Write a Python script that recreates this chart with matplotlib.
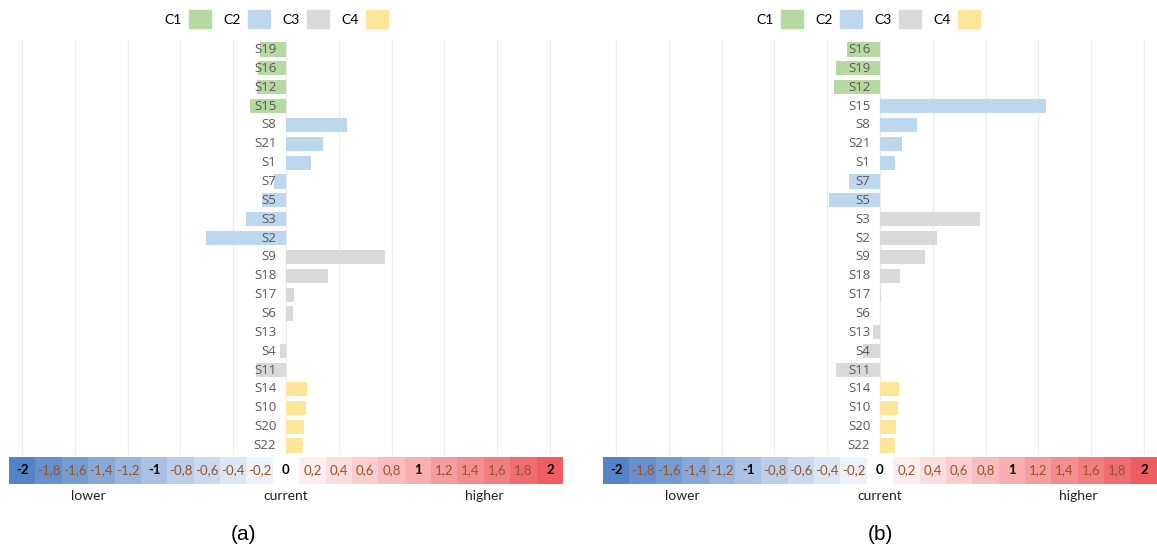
import numpy as np
import matplotlib.pyplot as plt
from matplotlib.patches import Patch
from matplotlib.colors import LinearSegmentedColormap

# data for panel (a)
labels_a = ['S19', 'S16', 'S12', 'S15', 'S8', 'S21', 'S1', 'S7', 'S5', 'S3', 'S2',
            'S9', 'S18', 'S17', 'S6', 'S13', 'S4', 'S11', 'S14', 'S10', 'S20', 'S22']
values_a = [-0.20, -0.21, -0.22, -0.27, 0.465, 0.28, 0.19, -0.09, -0.18, -0.30, -0.61,
            0.75, 0.32, 0.063, 0.055, 0.0, -0.045, -0.23, 0.157, 0.15, 0.137, 0.13]
groups_a = ['C1'] * 4 + ['C2'] * 7 + ['C3'] * 7 + ['C4'] * 4

# data for panel (b)
labels_b = ['S16', 'S19', 'S12', 'S15', 'S8', 'S21', 'S1', 'S7', 'S5', 'S3', 'S2',
            'S9', 'S18', 'S17', 'S6', 'S13', 'S4', 'S11', 'S14', 'S10', 'S20', 'S22']
values_b = [-0.25, -0.33, -0.35, 1.26, 0.28, 0.17, 0.11, -0.235, -0.39, 0.76, 0.43,
            0.34, 0.155, 0.01, 0.0, -0.055, -0.127, -0.33, 0.144, 0.137, 0.12, 0.116]
groups_b = ['C1'] * 3 + ['C2'] * 6 + ['C3'] * 9 + ['C4'] * 4

categories = ['C1', 'C2', 'C3', 'C4']
cat_colors = {'C1': '#b5d9a0', 'C2': '#bdd7ee', 'C3': '#d9d9d9', 'C4': '#ffe699'}

# colour scale under each panel
scale_ticks = [-2, -1.8, -1.6, -1.4, -1.2, -1, -0.8, -0.6, -0.4, -0.2, 0,
               0.2, 0.4, 0.6, 0.8, 1, 1.2, 1.4, 1.6, 1.8, 2]
scale_words = ['lower', 'current', 'higher']
word_pos = [-1.5, 0, 1.5]
grid_ticks = [-2, -1.6, -1.2, -0.8, -0.4, 0, 0.4, 0.8, 1.2, 1.6, 2]

cmap = LinearSegmentedColormap.from_list('lh', ['#4a7cc4', '#ffffff', '#ec5458'])

W, H = 1157, 552
fig = plt.figure(figsize=(W / 100, H / 100), dpi=100)


def fx(px):
    return px / W


def fy(py):
    return 1 - py / H


def panel(x0, labels, values, groups, tag, tag_x, leg_x):
    ax = fig.add_axes([fx(x0), fy(455), fx(554), fy(40) - fy(455)])
    y = np.arange(len(labels))
    cols = [cat_colors[g] for g in groups]
    ax.barh(y, values, height=0.75, color=cols, zorder=2)
    for yi, lab in zip(y, labels):
        ax.annotate(lab, (0, yi), xytext=(-7, 0), textcoords='offset points',
                    ha='right', va='center', color='#595959', fontsize=9.5,
                    family='Open Sans', zorder=3)
    ax.set_xlim(-2.1, 2.1)
    ax.set_ylim(len(labels) - 0.5, -0.5)
    ax.set_xticks(grid_ticks)
    ax.grid(axis='x', color='#ececec', linewidth=1, zorder=0)
    ax.tick_params(length=0, labelbottom=False, labelleft=False)
    for s in ax.spines.values():
        s.set_visible(False)

    # colour scale
    cb = fig.add_axes([fx(x0), fy(484), fx(554), fy(457) - fy(484)])
    cb.bar(scale_ticks, 1, width=0.2,
           color=[cmap((t + 2) / 4 * 0.94 + 0.03) for t in scale_ticks])
    for t in scale_ticks:
        whole = abs(t - round(t)) < 1e-9
        txt = ('%d' % round(t)) if whole else ('%.1f' % t).replace('.', ',')
        cb.text(t, 0.5, txt, ha='center', va='center', fontsize=9.5, family='Lato',
                color='black' if whole else '#9a5426',
                fontweight='bold' if whole else 'normal')
    cb.set_xlim(-2.1, 2.1)
    cb.set_ylim(0, 1)
    cb.axis('off')
    for p, w in zip(word_pos, scale_words):
        cb.text(p, -0.45, w, ha='center', va='center', fontsize=10, family='Lato',
                color='#222222')

    fig.text(fx(tag_x), fy(535), tag, ha='center', va='center', fontsize=15,
             family='Liberation Sans')

    handles = [Patch(color=cat_colors[c], label=c) for c in categories]
    fig.legend(handles=handles, loc='center', bbox_to_anchor=(fx(leg_x), fy(19)),
               ncol=4, frameon=False, markerfirst=False, handlelength=1.6,
               handleheight=1.6, columnspacing=0.9, handletextpad=0.5,
               prop={'family': 'Lato', 'size': 10})


panel(9, labels_a, values_a, groups_a, '(a)', 243, 276)
panel(603, labels_b, values_b, groups_b, '(b)', 880, 868)

fig.savefig('out.png', dpi=100, facecolor='white')
